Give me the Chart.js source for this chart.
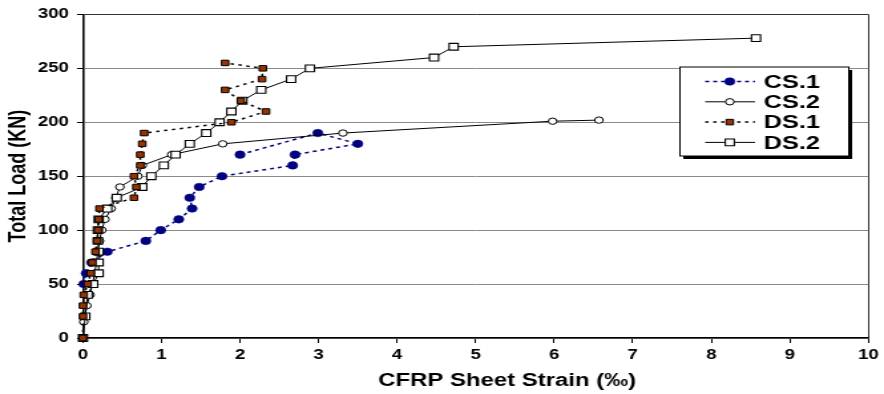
<!DOCTYPE html>
<html><head><meta charset="utf-8">
<script src="https://cdn.jsdelivr.net/npm/chart.js@4.4.1/dist/chart.umd.min.js"></script>
<style>
html,body{margin:0;padding:0;background:#fff;overflow:hidden;width:884px;height:394px}
#wrap{position:absolute;left:0;top:0;width:665px;height:394px;transform:scaleX(1.32932);transform-origin:0 0}
</style></head><body>
<div id="wrap"><canvas id="c"></canvas></div>
<script>
// ---- data ----
const seriesNames = ['CS.1', 'CS.2', 'DS.1', 'DS.2'];

const cs1Strain = [0.01, 0.04, 0.11, 0.31, 0.80, 0.99, 1.22, 1.39, 1.36, 1.48, 1.77, 2.67, 2.70, 3.50, 2.99, 2.00];
const cs1Load   = [50,   60,   70,   80,   90,   100,  110,  120,  130,  140,  150,  160,  170,  180,  190,  170];

const cs2Strain = [0.01, 0.05, 0.09, 0.12, 0.15, 0.17, 0.19, 0.21, 0.24, 0.28, 0.36, 0.42, 0.47, 0.70, 0.755, 1.13, 1.78, 3.31, 5.98, 6.57];
const cs2Load   = [15,   30,   40,   50,   60,   70,   80,   90,   100,  110,  120,  130,  140,  150,  160,   170,  180,  190,  201,  202];

const ds1Strain = [0, 0, 0, 0.01, 0.06, 0.10, 0.12, 0.16, 0.18, 0.19, 0.20, 0.21, 0.65, 0.68, 0.65, 0.73, 0.73, 0.755, 0.78, 1.89, 2.33, 2.01, 1.81, 2.28, 2.29, 1.81];
const ds1Load   = [0, 20, 30, 40, 50, 60, 70, 80, 90, 100, 110, 120, 130, 140, 150, 160, 170, 180, 190, 200, 210, 220, 230, 240, 250, 255];

const ds2Strain = [0, 0.03, 0.06, 0.13, 0.20, 0.20, 0.20, 0.19, 0.19, 0.20, 0.31, 0.43, 0.755, 0.87, 1.03, 1.18, 1.36, 1.57, 1.74, 1.89, 2.03, 2.27, 2.65, 2.89, 4.47, 4.72, 8.57];
const ds2Load   = [0, 20, 40, 50, 60, 70, 80, 90, 100, 110, 120, 130, 140, 150, 160, 170, 180, 190, 200, 210, 220, 230, 240, 250, 260, 270, 278];

const xTickValues = [0, 1, 2, 3, 4, 5, 6, 7, 8, 9, 10];
const yTickValues = [0, 50, 100, 150, 200, 250, 300];
const xTitle = 'CFRP Sheet Strain (‰)';
const yTitle = 'Total Load (KN)';

// ---- build ----
const pts = (xs, ys) => xs.map((x, i) => ({x: x, y: ys[i]}));
const FONT = '"Liberation Sans", Arial, sans-serif';

const datasets = [
  {label: seriesNames[0], data: pts(cs1Strain, cs1Load), order: 3,
   borderColor: '#000080', borderWidth: 1.5, borderDash: [3, 3],
   pointStyle: 'circle', pointRadius: 3.8, pointBorderWidth: 0.5,
   pointBackgroundColor: '#000080', pointBorderColor: '#000080'},
  {label: seriesNames[1], data: pts(cs2Strain, cs2Load), order: 2,
   borderColor: '#000', borderWidth: 1, borderDash: [],
   pointStyle: 'circle', pointRadius: 3.2, pointBorderWidth: 1,
   pointBackgroundColor: '#fff', pointBorderColor: '#000'},
  {label: seriesNames[2], data: pts(ds1Strain, ds1Load), order: 0,
   borderColor: '#000', borderWidth: 1.5, borderDash: [2.5, 3.5],
   pointStyle: 'rect', pointRadius: 3.9, pointBorderWidth: 1,
   pointBackgroundColor: '#993300', pointBorderColor: '#000'},
  {label: seriesNames[3], data: pts(ds2Strain, ds2Load), order: 1,
   borderColor: '#000', borderWidth: 1, borderDash: [],
   pointStyle: 'rect', pointRadius: 4.8, pointBorderWidth: 1.1,
   pointBackgroundColor: '#fff', pointBorderColor: '#000'}
];
datasets.forEach(d => { d.showLine = true; d.fill = false; d.clip = false; d.tension = 0; d.pointHoverRadius = d.pointRadius; });

const boxLegend = {
  id: 'boxLegend',
  afterDraw(chart) {
    const ctx = chart.ctx;
    const L = 511.5, T = 67, R = 638.5, B = 156;
    ctx.save();
    ctx.fillStyle = '#000';
    ctx.fillRect(L + 2.5, T + 3, R - L, B - T);
    ctx.fillStyle = '#fff';
    ctx.fillRect(L, T, R - L, B - T);
    ctx.strokeStyle = '#000'; ctx.lineWidth = 1;
    ctx.strokeRect(L, T, R - L, B - T);
    chart.data.datasets.forEach((ds, i) => {
      const y = 81.5 + i * 20.3;
      ctx.beginPath();
      ctx.setLineDash(ds.borderDash || []);
      ctx.strokeStyle = ds.borderColor; ctx.lineWidth = ds.borderWidth;
      ctx.moveTo(530.5, y); ctx.lineTo(568, y); ctx.stroke();
      ctx.setLineDash([]);
      ctx.fillStyle = ds.pointBackgroundColor; ctx.strokeStyle = ds.pointBorderColor; ctx.lineWidth = ds.pointBorderWidth;
      Chart.helpers.drawPoint(ctx, {pointStyle: ds.pointStyle, rotation: 0, radius: ds.pointRadius, borderWidth: ds.pointBorderWidth}, 549, y);
      ctx.fillStyle = '#000';
      ctx.font = 'bold 19px ' + FONT;
      ctx.textBaseline = 'middle'; ctx.textAlign = 'left';
      ctx.fillText(ds.label, 574.5, y + 1);
    });
    ctx.restore();
  }
};

const xTitlePlugin = {
  id: 'xTitlePlugin',
  afterDraw(chart) {
    const ctx = chart.ctx;
    ctx.save();
    ctx.fillStyle = '#000';
    ctx.font = 'bold 18px ' + FONT;
    ctx.textAlign = 'center'; ctx.textBaseline = 'middle';
    ctx.fillText(xTitle, 381.5, 381);
    ctx.restore();
  }
};

new Chart(document.getElementById('c'), {
  type: 'scatter',
  data: {datasets: datasets},
  plugins: [boxLegend, xTitlePlugin],
  options: {
    responsive: true, maintainAspectRatio: false, animation: false,
    layout: {padding: {top: 13, right: 8.3, left: 0, bottom: 0}},
    plugins: {legend: {display: false}, tooltip: {enabled: false}},
    scales: {
      x: {
        type: 'linear', min: 0, max: 10,
        afterBuildTicks: s => { s.ticks = xTickValues.map(v => ({value: v})); },
        afterFit: s => { s.height = 56; },
        ticks: {color: '#000', font: {family: FONT, size: 14, weight: 'bold'}, padding: 4, maxRotation: 0},
        grid: {
          color: c => (c.tick && c.tick.value === 10) ? '#333' : 'rgba(0,0,0,0)',
          tickColor: '#000', tickLength: 5, lineWidth: 1, drawOnChartArea: true
        },
        border: {color: '#000', width: 1.5},
        title: {display: false, text: xTitle}
      },
      y: {
        type: 'linear', min: 0, max: 300,
        afterBuildTicks: s => { s.ticks = yTickValues.map(v => ({value: v})); },
        afterFit: s => { s.width = 62.4; },
        ticks: {color: '#000', font: {family: FONT, size: 14, weight: 'bold'}, padding: 6},
        grid: {
          color: c => (c.tick && c.tick.value === 300) ? '#333' : '#8a8a8a',
          tickColor: '#000', tickLength: 4.5, lineWidth: 1
        },
        border: {color: '#000', width: 1.6},
        title: {display: true, text: yTitle, color: '#000', font: {family: FONT, size: 18, weight: 'bold'}, padding: {top: 3, bottom: 0}}
      }
    }
  }
});
</script>
</body></html>
